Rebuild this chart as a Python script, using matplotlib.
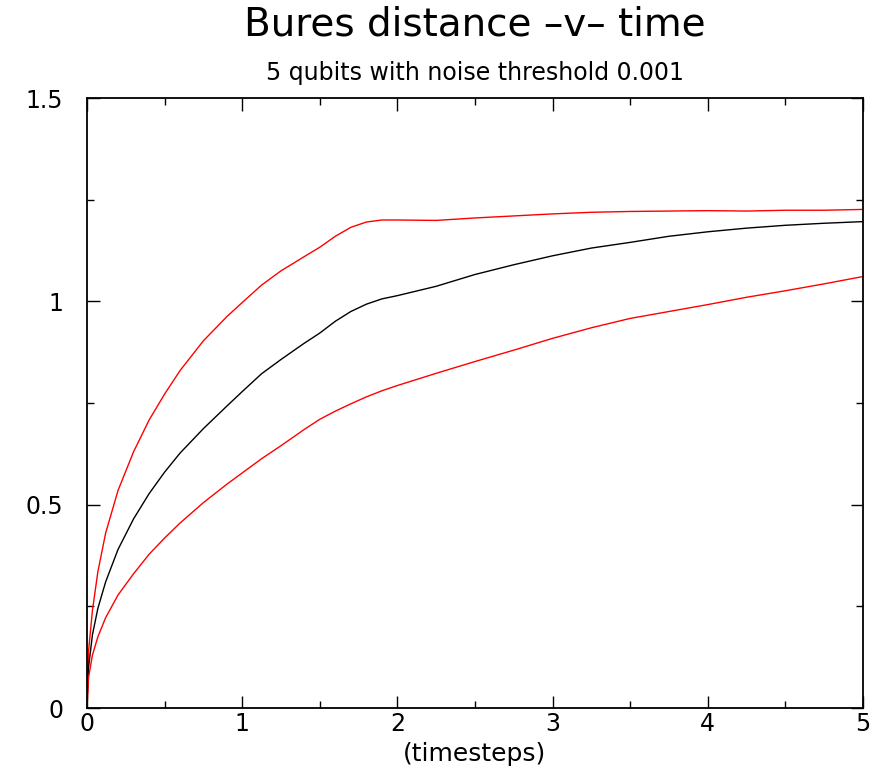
import matplotlib
matplotlib.use("Agg")
import matplotlib.pyplot as plt
from matplotlib.ticker import MultipleLocator

plt.rcParams['font.family'] = ['DejaVu Sans']

# time grid (timesteps)
t = [0, 0.01, 0.035, 0.07, 0.12, 0.2, 0.3, 0.4, 0.5, 0.6, 0.75, 0.9, 1.0,
     1.125, 1.25, 1.4, 1.5, 1.6, 1.7, 1.8, 1.9, 2.0, 2.25, 2.5, 2.75, 3.0,
     3.25, 3.5, 3.75, 4.0, 4.25, 4.5, 4.75, 5.0]

# upper bound (red)
upper = [0, 0.14, 0.24, 0.335, 0.43, 0.535, 0.63, 0.708, 0.772, 0.83, 0.903, 0.962, 0.997,
         1.04, 1.075, 1.11, 1.133, 1.16, 1.182, 1.195, 1.200, 1.200, 1.199, 1.205, 1.210, 1.215,
         1.219, 1.221, 1.222, 1.223, 1.222, 1.224, 1.224, 1.226]

# mean (black)
mean = [0, 0.10, 0.18, 0.245, 0.31, 0.39, 0.465, 0.527, 0.58, 0.627, 0.687, 0.742, 0.778,
        0.822, 0.857, 0.897, 0.922, 0.951, 0.975, 0.993, 1.006, 1.014, 1.037, 1.066, 1.090, 1.112,
        1.131, 1.145, 1.16, 1.171, 1.18, 1.187, 1.192, 1.196]

# lower bound (red)
lower = [0, 0.075, 0.13, 0.175, 0.222, 0.278, 0.33, 0.378, 0.418, 0.455, 0.505, 0.55, 0.578,
         0.613, 0.645, 0.685, 0.71, 0.73, 0.748, 0.765, 0.78, 0.793, 0.823, 0.852, 0.88, 0.909,
         0.935, 0.958, 0.975, 0.992, 1.01, 1.026, 1.043, 1.061]

xticks = [0, 1, 2, 3, 4, 5]
yticks = [0, 0.5, 1, 1.5]
yticklabels = ["0", "0.5", "1", "1.5"]

fig = plt.figure(figsize=(8.78, 7.72), dpi=100)
ax = fig.add_axes([87 / 878, 64 / 772, 776 / 878, 610 / 772])

ax.plot(t, upper, color="#ff0000", lw=1.0)
ax.plot(t, mean, color="black", lw=1.0)
ax.plot(t, lower, color="#ff0000", lw=1.0)

ax.set_xlim(0, 5)
ax.set_ylim(0, 1.5)
ax.set_xticks(xticks)
ax.set_xticklabels([str(v) for v in xticks])
ax.set_yticks(yticks)
ax.set_yticklabels(yticklabels)
ax.xaxis.set_minor_locator(MultipleLocator(0.5))
ax.yaxis.set_minor_locator(MultipleLocator(0.25))

ax.tick_params(which="both", direction="in", top=True, right=True, width=1.0)
ax.tick_params(which="major", length=9)
ax.tick_params(which="minor", length=5)
ax.tick_params(axis="y", which="major", pad=17, labelsize=17)
ax.tick_params(axis="x", which="major", pad=3, labelsize=17)
for s in ax.spines.values():
    s.set_linewidth(1.3)

ax.set_xlabel("(timesteps)", fontsize=18, labelpad=4)
fig.text(475 / 878, 1 - 25 / 772, "Bures distance \u2013v\u2013 time",
         ha="center", va="center", fontsize=28)
fig.text(475 / 878, 1 - 73 / 772, "5 qubits with noise threshold 0.001",
         ha="center", va="center", fontsize=17)

fig.savefig("out.png", dpi=100)
